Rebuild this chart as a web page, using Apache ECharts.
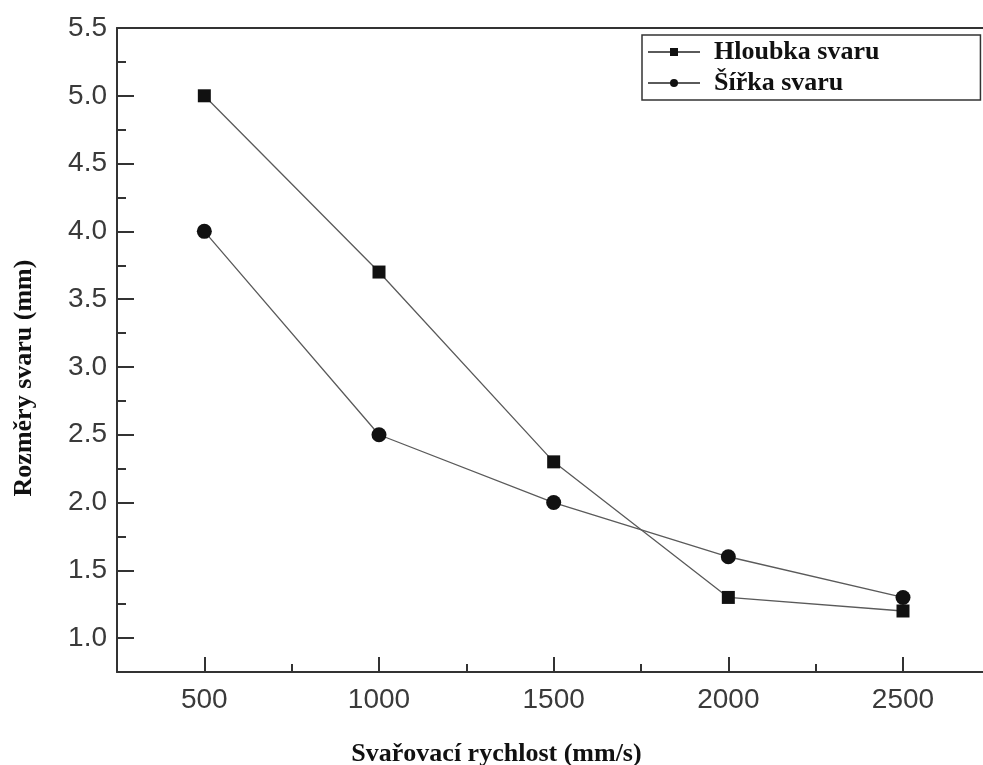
<!DOCTYPE html>
<html lang="cs">
<head>
    <meta charset="utf-8" />
    <title>Rozměry svaru</title>
    <script src="https://cdn.jsdelivr.net/npm/echarts@6/dist/echarts.min.js"></script>
    <style>
        html, body { margin: 0; padding: 0; background: #fff; overflow: hidden; }
        #main { width: 983px; height: 765px; }
    </style>
</head>
<body>
<div id="main"></div>
<script type="text/javascript">
    // data
    let speeds = [500, 1000, 1500, 2000, 2500]
    let hloubka = [5.0, 3.7, 2.3, 1.3, 1.2]
    let sirka = [4.0, 2.5, 2.0, 1.6, 1.3]
    let xMajor = [500, 1000, 1500, 2000, 2500]
    let xMinor = [750, 1250, 1750, 2250]
    let yMajor = [1.0, 1.5, 2.0, 2.5, 3.0, 3.5, 4.0, 4.5, 5.0, 5.5]
    let yMinor = [1.25, 1.75, 2.25, 2.75, 3.25, 3.75, 4.25, 4.75, 5.25]

    let axisColor = '#333'
    let labelColor = '#3a3a3a'
    let lineColor = '#5a5a5a'
    let markColor = '#111'
    let serif = '"Liberation Serif", "Times New Roman", serif'
    let sans = '"Liberation Sans", Arial, sans-serif'

    let chart = echarts.init(document.getElementById('main'))

    const pairs = (ys) => speeds.map((x, i) => [x, ys[i]])

    // the picture is cut on the right, so the x axis runs past 2500
    let xMin = 250
    let xMax = 2729

    chart.setOption({
        animation: false,
        backgroundColor: '#fff',
        grid: {
            left: 117,
            top: 28,
            right: 0,
            bottom: 93,
            outerBoundsMode: 'none',
        },
        legend: {
            orient: 'vertical',
            left: 642,
            top: 35,
            padding: [4, 101, 4, 5],
            itemGap: 5,
            itemWidth: 52,
            itemHeight: 10,
            borderColor: axisColor,
            borderWidth: 1.5,
            textStyle: {
                fontFamily: serif,
                fontWeight: 'bold',
                fontSize: 26,
                color: '#111',
                padding: [0, 0, 0, 9],
            },
        },
        xAxis: [
            {
                type: 'value',
                position: 'bottom',
                min: xMin,
                max: xMax,
                interval: 250,
                name: 'Svařovací rychlost (mm/s)',
                nameLocation: 'middle',
                nameGap: 69,
                nameTextStyle: {
                    fontFamily: serif,
                    fontWeight: 'bold',
                    fontSize: 26,
                    color: '#111',
                    padding: [0, 107, 0, 0],
                },
                axisLine: { lineStyle: { color: axisColor, width: 2 } },
                axisTick: { inside: true, length: 8, customValues: xMinor, lineStyle: { color: axisColor, width: 2 } },
                axisLabel: {
                    customValues: xMajor,
                    formatter: (v) => String(v),
                    fontFamily: sans,
                    fontSize: 28,
                    color: labelColor,
                    margin: 14,
                },
                splitLine: { show: false },
            },
            {
                type: 'value',
                position: 'bottom',
                min: xMin,
                max: xMax,
                interval: 250,
                axisLine: { show: false },
                axisTick: { inside: true, length: 15, customValues: xMajor, lineStyle: { color: axisColor, width: 2 } },
                axisLabel: { show: false },
                splitLine: { show: false },
            },
            {
                type: 'value',
                position: 'top',
                min: xMin,
                max: xMax,
                interval: 250,
                axisLine: { show: true, lineStyle: { color: axisColor, width: 2 } },
                axisTick: { show: false },
                axisLabel: { show: false },
                splitLine: { show: false },
            },
        ],
        yAxis: [
            {
                type: 'value',
                position: 'left',
                min: 0.75,
                max: 5.5,
                interval: 0.25,
                name: 'Rozměry svaru (mm)',
                nameLocation: 'middle',
                nameGap: 80,
                nameRotate: 90,
                nameTextStyle: {
                    fontFamily: serif,
                    fontWeight: 'bold',
                    fontSize: 26,
                    color: '#111',
                    padding: [0, 56, 0, 0],
                },
                axisLine: { show: true, lineStyle: { color: axisColor, width: 2 } },
                axisTick: { show: true, inside: true, length: 9, customValues: yMinor, lineStyle: { color: axisColor, width: 2 } },
                axisLabel: {
                    customValues: yMajor,
                    formatter: (v) => v.toFixed(1),
                    fontFamily: sans,
                    fontSize: 28,
                    color: labelColor,
                    margin: 10,
                },
                splitLine: { show: false },
            },
            {
                type: 'value',
                position: 'left',
                min: 0.75,
                max: 5.5,
                interval: 0.25,
                axisLine: { show: false },
                axisTick: { show: true, inside: true, length: 17, customValues: yMajor, lineStyle: { color: axisColor, width: 2 } },
                axisLabel: { show: false },
                splitLine: { show: false },
            },
        ],
        series: [
            {
                name: 'Hloubka svaru',
                type: 'line',
                data: pairs(hloubka),
                symbol: 'rect',
                symbolSize: 13,
                lineStyle: { color: lineColor, width: 1.3 },
                itemStyle: { color: markColor },
            },
            {
                name: 'Šířka svaru',
                type: 'line',
                data: pairs(sirka),
                symbol: 'circle',
                symbolSize: 15,
                lineStyle: { color: lineColor, width: 1.3 },
                itemStyle: { color: markColor },
            },
        ],
    })
</script>
</body>
</html>
